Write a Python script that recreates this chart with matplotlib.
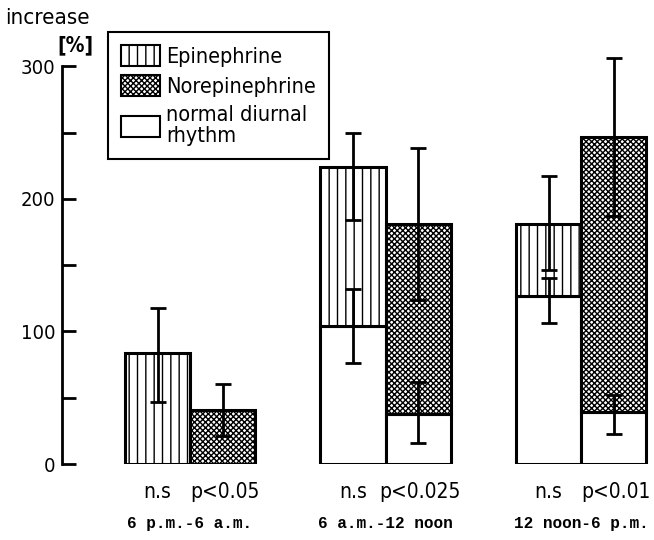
import matplotlib.pyplot as plt
import numpy as np
from matplotlib.patches import Patch

plt.rcParams['hatch.linewidth'] = 1.0
plt.rcParams['font.stretch'] = 'condensed'

# data
periods = ["6 p.m.-6 a.m.", "6 a.m.-12 noon", "12 noon-6 p.m."]
sig_epi = ["n.s", "n.s", "n.s"]
sig_norepi = ["p<0.05", "p<0.025", "p<0.01"]

epi_total = [84, 224, 181]
epi_base = [0, 104, 127]
norepi_total = [41, 181, 247]
norepi_base = [0, 38, 39]

epi_err_lo = [47, 184, 146]
epi_err_hi = [118, 250, 217]
norepi_err_lo = [21, 124, 187]
norepi_err_hi = [60, 238, 306]

# error of the normal diurnal rhythm part (only groups 2 and 3)
epi_base_lo = [np.nan, 76, 106]
epi_base_hi = [np.nan, 132, 140]
norepi_base_lo = [np.nan, 16, 23]
norepi_base_hi = [np.nan, 62, 52]

narrow = ['DejaVu Sans']
mono = ['Liberation Mono', 'DejaVu Sans Mono']

fig = plt.figure(figsize=(6.54, 5.4), dpi=100)
ax = fig.add_axes([62 / 654, 76 / 540, 592 / 654, 411 / 540])

x = np.arange(len(periods))
w = 0.333
xe = x - w / 2
xn = x + w / 2
lw = 2.2

# white "normal diurnal rhythm" part
ax.bar(xe, epi_base, w, color='white', edgecolor='black', linewidth=lw)
ax.bar(xn, norepi_base, w, color='white', edgecolor='black', linewidth=lw)
# hormone part on top
ax.bar(xe, np.subtract(epi_total, epi_base), w, bottom=epi_base, color='white',
       edgecolor='black', hatch='||', linewidth=lw)
ax.bar(xn, np.subtract(norepi_total, norepi_base), w, bottom=norepi_base,
       color='white', edgecolor='black', hatch='xxxxxx', linewidth=lw)


def err(xs, mid, lo, hi):
    mid = np.array(mid, float)
    lo = np.array(lo, float)
    hi = np.array(hi, float)
    ax.errorbar(xs, mid, yerr=[mid - lo, hi - mid], fmt='none', ecolor='black',
                elinewidth=2, capsize=6, capthick=2, clip_on=False, zorder=5)


err(xe, epi_total, epi_err_lo, epi_err_hi)
err(xn, norepi_total, norepi_err_lo, norepi_err_hi)
err(xe, epi_base, epi_base_lo, epi_base_hi)
err(xn, norepi_base, norepi_base_lo, norepi_base_hi)

ax.set_xlim(-0.655, 2.373)
ax.set_ylim(0, 310)
for s in ['top', 'right', 'bottom']:
    ax.spines[s].set_visible(False)
ax.spines['left'].set_bounds(0, 300)
ax.spines['left'].set_linewidth(2)
ax.set_xticks([])
ax.set_yticks([0, 100, 200, 300])
ax.set_yticks([50, 150, 250], minor=True)
ax.tick_params(axis='y', which='both', direction='in', length=10, width=2, pad=5)
for t in ax.get_yticklabels():
    t.set_family(narrow)
    t.set_fontsize(14.5)

for i in range(len(periods)):
    ax.text(xe[i], -21, sig_epi[i], ha='center', va='center', fontsize=15,
            family=narrow, clip_on=False)
    ax.text(xn[i] + 0.01, -21, sig_norepi[i], ha='center', va='center',
            fontsize=15, family=narrow, clip_on=False)
    ax.text(x[i], -45, periods[i], ha='center', va='center', fontsize=11.5,
            family=mono, fontweight='bold', clip_on=False)

fig.text(5 / 654, 1 - 18 / 540, "increase", ha='left', va='center',
         fontsize=16, family=narrow)
fig.text(75 / 654, 1 - 45 / 540, "[%]", ha='center', va='center',
         fontsize=15, family=narrow, fontweight='bold')

handles = [
    Patch(facecolor='white', edgecolor='black', hatch='||', linewidth=1.5),
    Patch(facecolor='white', edgecolor='black', hatch='xxxxxx', linewidth=1.5),
    Patch(facecolor='white', edgecolor='black', linewidth=1.5),
]
labels = ["Epinephrine", "Norepinephrine", "normal diurnal\nrhythm"]
leg = ax.legend(handles, labels, loc='upper left',
                bbox_to_anchor=(108 / 654, 1 - 32 / 540),
                bbox_transform=fig.transFigure, fancybox=False,
                edgecolor='black', framealpha=1, borderpad=0.6,
                borderaxespad=0, handlelength=1.8, handleheight=1.1,
                handletextpad=0.3, labelspacing=0.4,
                prop={'family': narrow, 'size': 15.5})
for t in leg.get_texts():
    t.set_linespacing(1.05)
leg.get_frame().set_linewidth(1.5)

fig.savefig("out.png", dpi=100)
